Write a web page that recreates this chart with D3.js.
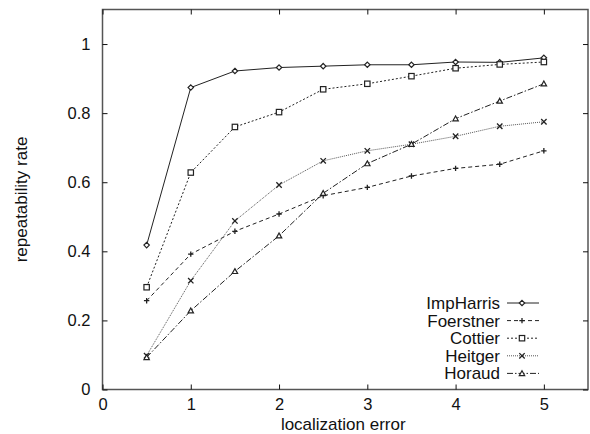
<!DOCTYPE html>
<html>
<head>
<meta charset="UTF-8">
<script src="https://d3js.org/d3.v7.min.js"></script>
<style>
body { margin: 0; background: #fff; }
text { font-family: "Liberation Sans", Arial, sans-serif; fill: #111; }
</style>
</head>
<body>
<div id="chart"></div>
<script>
// localization error values
var errors = [0.5, 1, 1.5, 2, 2.5, 3, 3.5, 4, 4.5, 5];

// repeatability rate per detector
var impHarris = [0.418, 0.874, 0.922, 0.932, 0.936, 0.940, 0.940, 0.948, 0.947, 0.960];
var foerstner = [0.257, 0.392, 0.458, 0.508, 0.561, 0.585, 0.618, 0.640, 0.652, 0.691];
var cottier   = [0.296, 0.628, 0.760, 0.803, 0.869, 0.885, 0.907, 0.930, 0.941, 0.948];
var heitger   = [0.098, 0.315, 0.488, 0.592, 0.662, 0.691, 0.710, 0.733, 0.762, 0.775];
var horaud    = [0.093, 0.228, 0.342, 0.445, 0.568, 0.654, 0.710, 0.784, 0.835, 0.885];

var names  = ["ImpHarris", "Foerstner", "Cottier", "Heitger", "Horaud"];
var xTicks = [0, 1, 2, 3, 4, 5];
var yTicks = [0, 0.2, 0.4, 0.6, 0.8, 1];

var series = [
    {name: names[0], values: impHarris, dash: null,        stroke: "#222", marker: "diamond"},
    {name: names[1], values: foerstner, dash: "4,3",       stroke: "#222", marker: "plus"},
    {name: names[2], values: cottier,   dash: "2,2",       stroke: "#222", marker: "square"},
    {name: names[3], values: heitger,   dash: "1,1",       stroke: "#555", marker: "cross"},
    {name: names[4], values: horaud,    dash: "6,2,1.5,2", stroke: "#222", marker: "triangle"}
];

var width = 590, height = 434;
var m = {left: 102.5, right: 588, top: 9.5, bottom: 389.5};

var svg = d3.select("#chart").append("svg")
    .attr("width", width)
    .attr("height", height);

var x = d3.scaleLinear().domain([0, 5.5]).range([m.left, m.right]);
var y = d3.scaleLinear().domain([0, 1.1]).range([m.bottom, m.top]);

// frame
svg.append("rect")
    .attr("x", m.left).attr("y", m.top)
    .attr("width", m.right - m.left).attr("height", m.bottom - m.top)
    .attr("fill", "none").attr("stroke", "#555").attr("stroke-width", 1.5);

// ticks, inward on all four sides
function noDomain(sel) { sel.select(".domain").remove(); }

svg.append("g")
    .attr("transform", "translate(0," + m.bottom + ")")
    .call(d3.axisBottom(x).tickValues(xTicks).tickSize(-5).tickPadding(9).tickFormat(d3.format("d")))
    .call(noDomain);
svg.append("g")
    .attr("transform", "translate(0," + m.top + ")")
    .call(d3.axisTop(x).tickValues(xTicks).tickSize(-5).tickFormat(""))
    .call(noDomain);
svg.append("g")
    .attr("transform", "translate(" + m.left + ",0)")
    .call(d3.axisLeft(y).tickValues(yTicks).tickSize(-5).tickPadding(12).tickFormat(function(d) { return String(d); }))
    .call(noDomain);
svg.append("g")
    .attr("transform", "translate(" + m.right + ",0)")
    .call(d3.axisRight(y).tickValues(yTicks).tickSize(-5).tickFormat(""))
    .call(noDomain);

svg.selectAll(".tick line").attr("stroke", "#111");
svg.selectAll(".tick text")
    .style("font-family", "'Liberation Sans', Arial, sans-serif")
    .style("font-size", "16.5px")
    .attr("fill", "#111");

// axis titles
svg.append("text")
    .attr("x", (m.left + m.right) / 2 - 2)
    .attr("y", 430)
    .attr("text-anchor", "middle")
    .style("font-size", "17px")
    .text("localization error");
svg.append("text")
    .attr("transform", "translate(27," + ((m.top + m.bottom) / 2) + ") rotate(-90)")
    .attr("text-anchor", "middle")
    .style("font-size", "17px")
    .text("repeatability rate");

// marker shapes
function marker(g, type, cx, cy, color) {
    var s = 2.7;
    if (type == "diamond") {
        g.append("path").attr("d", "M" + cx + "," + (cy - s) + "L" + (cx + s) + "," + cy + "L" + cx + "," + (cy + s) + "L" + (cx - s) + "," + cy + "Z")
            .attr("fill", "#fff").attr("stroke", color).attr("stroke-width", 1.2);
    }
    else if (type == "plus") {
        g.append("path").attr("d", "M" + (cx - s) + "," + cy + "H" + (cx + s) + "M" + cx + "," + (cy - s) + "V" + (cy + s))
            .attr("stroke", color).attr("stroke-width", 1.3);
    }
    else if (type == "square") {
        g.append("rect").attr("x", cx - s).attr("y", cy - s).attr("width", 2 * s).attr("height", 2 * s)
            .attr("fill", "#fff").attr("stroke", color).attr("stroke-width", 1.2);
    }
    else if (type == "cross") {
        g.append("path").attr("d", "M" + (cx - s) + "," + (cy - s) + "L" + (cx + s) + "," + (cy + s) + "M" + (cx + s) + "," + (cy - s) + "L" + (cx - s) + "," + (cy + s))
            .attr("stroke", "#222").attr("stroke-width", 1.3);
    }
    else if (type == "triangle") {
        g.append("path").attr("d", "M" + cx + "," + (cy - s) + "L" + (cx + s) + "," + (cy + s * 0.8) + "L" + (cx - s) + "," + (cy + s * 0.8) + "Z")
            .attr("fill", "#fff").attr("stroke", color).attr("stroke-width", 1.2);
    }
}

// lines and points
var line = d3.line()
    .x(function(d, i) { return x(errors[i]); })
    .y(function(d) { return y(d); });

series.forEach(function(s) {
    svg.append("path")
        .datum(s.values)
        .attr("d", line)
        .attr("fill", "none")
        .attr("stroke", s.stroke)
        .attr("stroke-width", 1)
        .attr("stroke-dasharray", s.dash);
});
series.forEach(function(s) {
    var g = svg.append("g");
    s.values.forEach(function(v, i) { marker(g, s.marker, x(errors[i]), y(v), s.stroke); });
});

// legend
var legend = svg.append("g");
series.forEach(function(s, i) {
    var ly = 303 + i * 17.6;
    legend.append("text")
        .attr("x", 500).attr("y", ly + 6)
        .attr("text-anchor", "end")
        .style("font-size", "17px")
        .text(s.name);
    legend.append("line")
        .attr("x1", 507).attr("x2", 539).attr("y1", ly).attr("y2", ly)
        .attr("stroke", s.stroke).attr("stroke-width", 1)
        .attr("stroke-dasharray", s.dash);
    marker(legend, s.marker, 522, ly, s.stroke);
});
</script>
</body>
</html>
